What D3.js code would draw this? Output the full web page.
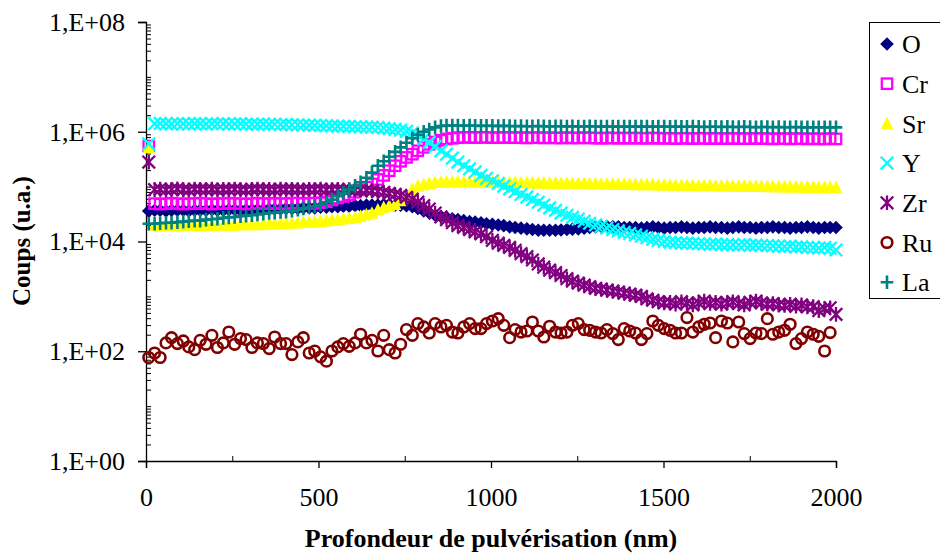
<!DOCTYPE html>
<html><head><meta charset="utf-8">
<script src="https://cdn.jsdelivr.net/npm/d3@7"></script>
<style>
body{margin:0;background:#fff}
svg{display:block}
text{font-family:"Liberation Serif","Times New Roman",serif;fill:#000}
</style>
</head><body><svg id="c" width="940" height="557"></svg>
<script>
// ---------- DATA ----------
const depth = [8,25,41,58,74,91,108,124,141,157,174,191,207,224,240,257,274,290,307,323,
340,357,373,390,406,423,440,456,473,489,506,523,539,556,572,589,606,622,639,655,
672,689,705,722,738,755,772,788,805,821,838,855,871,888,904,921,938,954,971,987,
1004,1021,1037,1054,1070,1087,1104,1120,1137,1153,1170,1187,1203,1220,1236,1253,1270,1286,1303,1319,
1336,1353,1369,1386,1402,1419,1436,1452,1469,1485,1502,1519,1535,1552,1568,1585,1602,1618,1635,1651,
1668,1685,1701,1718,1734,1751,1768,1784,1801,1817,1834,1851,1867,1884,1900,1917,1934,1950,1967,1983,2000];

const O = [36000,37000,37000,36000,37000,37000,37000,36000,37000,37000,37000,38000,37000,37000,38000,38000,37000,38000,38000,
38000,38000,39000,39000,39000,40000,40000,40000,41000,41000,41000,
42000,42000,43000,43000,44000,44000,45000,
45000,46000,46000,46000,47000,47000,46000,46000,45000,
43000,40000,36000,33000,30000,28500,27500,26000,25000,24000,23000,22500,22000,21000,20500,20000,19500,18500,18000,
17500,17000,16500,16000,16000,16000,16000,
16200,16500,16800,17000,17500,18000,18500,
19000,19000,18500,18500,18000,18000,
18000,17500,18000,18500,18000,17500,18000,18000,18500,18000,17500,18000,18000,18500,18000,18000,17500,18000,18500,18000,
18000,17500,18000,18000,18500,18000,18000,17500,18000,18000,18500,18000,17500,18000,18000,18000];

const Cr = [550000,
49000,48000,49000,50000,49000,48000,49000,49000,50000,49000,48000,49000,49000,50000,49000,49000,48000,49000,50000,49000,
49000,50000,49000,49000,50000,50000,49000,50000,50000,
51000,53000,57000,62000,66000,71000,79000,87000,98000,112000,135000,160000,195000,240000,290000,340000,390000,450000,520000,590000,
650000,700000,740000,760000,
780000,790000,790000,780000,790000,790000,780000,780000,790000,780000,780000,780000,770000,780000,780000,770000,780000,770000,770000,780000,
770000,770000,780000,770000,770000,760000,770000,770000,760000,770000,760000,770000,760000,760000,770000,760000,760000,760000,750000,760000,
760000,750000,760000,760000,750000,760000,750000,750000,760000,750000,750000,750000,760000,750000,750000,740000,750000,750000,740000,750000,
750000,740000,750000,740000,740000,750000,740000];

const Sr = [520000,
20000,19500,20000,20000,19500,20000,20000,20000,19500,20000,20000,20000,20500,20000,20000,20500,20500,20500,
20500,21000,21000,21000,21500,21500,22000,22000,22500,22500,23000,23500,
24000,24500,25000,26000,26500,27500,29000,31000,33000,38000,42000,45000,48000,56000,70000,90000,103000,110000,116000,120000,
122000,123000,123000,124000,123000,123000,122000,122000,122000,121000,
121000,120000,120000,120000,119000,119000,118000,118000,118000,117000,117000,116000,116000,115000,115000,115000,114000,114000,113000,113000,
112000,112000,111000,111000,110000,110000,109000,109000,108000,108000,
107000,107000,106000,106000,106000,105000,105000,105000,104000,104000,104000,103000,103000,103000,102000,102000,102000,101000,101000,101000,
100000,100000,100000,99000,99000,99000,98000,98000,98000,97000];

const Y = [600000,
1400000,1420000,1400000,1380000,1410000,1400000,1390000,1400000,1410000,1380000,1400000,1390000,1400000,1380000,1390000,1400000,1380000,1380000,
1370000,1380000,1360000,1370000,1350000,1360000,
1340000,1330000,1320000,1320000,1310000,1300000,
1290000,1280000,1270000,1260000,1250000,1240000,
1230000,1220000,1210000,1200000,
1170000,1140000,1110000,1070000,1020000,950000,860000,740000,640000,540000,450000,390000,330000,280000,240000,210000,185000,160000,142000,128000,
114000,102000,91000,81000,72000,65000,58000,52000,46000,41000,37000,33000,30000,27500,25500,23500,21500,20000,18800,17600,
16500,15600,14700,14000,13200,12500,11700,11000,10500,10000,
9700,9500,9300,9300,9200,9100,9000,8900,9000,8800,8700,8700,8600,8800,8500,8600,8500,8400,8300,8200,
8100,8200,7900,8000,7800,7700,7600,7800,7500,7000];

const Zr = [280000,
88000,90000,87000,89000,91000,88000,87000,90000,89000,88000,90000,87000,89000,88000,90000,88000,87000,89000,90000,88000,
89000,87000,90000,88000,89000,88000,87000,89000,88000,90000,87000,88000,89000,87000,88000,86000,87000,86000,
84000,82000,79000,75000,72000,69000,64000,59000,52000,45000,39000,33000,28000,25000,22000,19500,18000,16500,15000,13800,
12200,10500,9300,8500,7800,6900,6000,5300,4600,3900,3400,3000,2700,2400,2100,1900,1750,1600,1500,1400,
1350,1300,1250,1200,1150,1100,1050,1000,900,850,800,
760,780,720,800,750,700,760,820,740,780,720,760,800,740,700,780,820,760,720,740,
700,680,720,660,700,640,650,550,600,620,470];

const Ru = [77,93,77,142,177,138,154,120,107,158,
134,195,117,142,224,134,170,163,117,142,
138,112,182,138,138,87,148,177,93,101,
79,66,101,120,138,123,142,204,142,158,
101,195,107,93,134,248,195,319,277,215,
319,277,297,224,215,277,319,259,259,319,
356,393,297,177,248,224,234,341,234,182,
285,224,215,224,297,319,248,241,224,215,
248,210,163,259,234,215,163,210,356,297,
259,241,215,215,410,224,277,310,327,177,
356,327,148,341,210,170,215,210,393,204,
224,241,310,138,170,224,204,187,101,219];

const La = [21000,21000,21500,22000,22000,22500,23000,23500,24000,24000,25000,25500,26000,27000,27500,28000,29000,29500,30000,31000,
32000,33000,33500,34500,35000,36500,38000,40000,42000,44000,
47000,52000,58000,67000,76000,88000,103000,120000,145000,180000,240000,290000,350000,430000,520000,630000,760000,880000,1000000,1100000,
1200000,1270000,1300000,
1300000,1300000,1290000,1300000,1290000,1280000,1290000,1280000,1270000,1280000,
1270000,1260000,1270000,1260000,1260000,1270000,1260000,1250000,1260000,1260000,
1250000,1260000,1250000,1250000,1260000,1250000,1240000,1250000,1250000,1240000,
1250000,1240000,1240000,1250000,1240000,1230000,1240000,1240000,1230000,1240000,
1230000,1230000,1240000,1230000,1220000,1230000,1230000,1220000,1230000,1220000,
1220000,1230000,1220000,1210000,1220000,1220000,1210000,1220000,1210000,1210000,
1220000,1210000,1200000,1210000,1210000,1200000,1210000,1200000];

const seriesNames = ["O","Cr","Sr","Y","Zr","Ru","La"];
const seriesValues = [O,Cr,Sr,Y,Zr,Ru,La];
const seriesColors = ["#000080","#FF00FF","#FFFF00","#00FFFF","#800080","#800000","#008080"];
const seriesMarkers = ["diamond","square","triangle","x","star","circle","plus"];

const yTickValues = [1,1e2,1e4,1e6,1e8];
const yTickLabels = ["1,E+00","1,E+02","1,E+04","1,E+06","1,E+08"];
const xTickValues = [0,500,1000,1500,2000];
const xMinorValues = [250,750,1250,1750];
const xTitle = "Profondeur de pulvérisation (nm)";
const yTitle = "Coups (u.a.)";

// ---------- CHART ----------
const svg = d3.select("#c");
const L = 146, R = 836, T = 22, B = 461;
const x = d3.scaleLinear().domain([0,2000]).range([L,R]);
const y = d3.scaleLog().domain([1,1e8]).range([B,T]);

// minor log ticks
const yMinor = [];
for (let e = 0; e < 8; e++) for (let m = 1; m <= 9; m++) {
  const v = m * Math.pow(10, e);
  if (!(m === 1 && e % 2 === 0)) yMinor.push(v);
}

const gy = svg.append("g").attr("transform", `translate(${L},0)`)
  .call(d3.axisLeft(y).tickValues(yTickValues).tickFormat((d,i)=>yTickLabels[i]).tickSize(8).tickPadding(13));
gy.select(".domain").attr("stroke","#000").attr("stroke-width",1.3);
gy.selectAll(".tick line").attr("stroke","#000").attr("stroke-width",1.3);
gy.selectAll(".tick text").attr("font-size",26).attr("font-family","Liberation Serif");

const gyMinor = svg.append("g").attr("transform", `translate(${L},0)`)
  .call(d3.axisRight(y).tickValues(yMinor).tickFormat("").tickSize(5));
gyMinor.select(".domain").remove();
gyMinor.selectAll(".tick line").attr("stroke","#000").attr("stroke-width",1);

const gx = svg.append("g").attr("transform", `translate(0,${B})`)
  .call(d3.axisBottom(x).tickValues(xTickValues).tickFormat(d3.format("d")).tickSize(7).tickPadding(20));
gx.select(".domain").attr("stroke","#000").attr("stroke-width",1.3);
gx.selectAll(".tick line").attr("stroke","#000").attr("stroke-width",1.3);
gx.selectAll(".tick text").attr("font-size",26).attr("font-family","Liberation Serif");

const gxMinor = svg.append("g").attr("transform", `translate(0,${B})`)
  .call(d3.axisTop(x).tickValues(xMinorValues).tickFormat("").tickSize(5));
gxMinor.select(".domain").remove();
gxMinor.selectAll(".tick line").attr("stroke","#000").attr("stroke-width",1);

// axis titles
svg.append("text").attr("x", 491).attr("y", 547).attr("text-anchor","middle")
  .attr("font-size",26).attr("font-weight","bold").text(xTitle);
svg.append("text").attr("transform","translate(30,241) rotate(-90)").attr("text-anchor","middle")
  .attr("font-size",25).attr("font-weight","bold").text(yTitle);

// marker drawing
function drawMarker(g, type, color) {
  const s = 6.3;
  switch (type) {
    case "diamond":
      g.append("path").attr("d",`M0,${-s-0.5}L${s+0.5},0L0,${s+0.5}L${-s-0.5},0Z`).attr("fill",color);
      break;
    case "square":
      g.append("rect").attr("x",-5.2).attr("y",-5.2).attr("width",10.4).attr("height",10.4)
        .attr("fill","none").attr("stroke",color).attr("stroke-width",2.3);
      break;
    case "triangle":
      g.append("path").attr("d",`M0,${-s-0.5}L${s},${s-0.5}L${-s},${s-0.5}Z`).attr("fill",color);
      break;
    case "x":
      g.append("path").attr("d",`M${-s},${-s}L${s},${s}M${s},${-s}L${-s},${s}`)
        .attr("stroke",color).attr("stroke-width",2.3).attr("fill","none");
      break;
    case "star":
      g.append("path").attr("d",`M${-s},${-s}L${s},${s}M${s},${-s}L${-s},${s}M0,${-s-1}L0,${s+1}`)
        .attr("stroke",color).attr("stroke-width",2.3).attr("fill","none");
      break;
    case "circle":
      g.append("circle").attr("r",5.3).attr("fill","none").attr("stroke",color).attr("stroke-width",2.6);
      break;
    case "plus":
      g.append("path").attr("d",`M${-s},0L${s},0M0,${-s-0.5}L0,${s+0.5}`)
        .attr("stroke",color).attr("stroke-width",2.6).attr("fill","none");
      break;
  }
}

seriesNames.forEach((name, si) => {
  const vals = seriesValues[si];
  const pts = vals.map((v,i) => ({d: depth[i], v}));
  const g = svg.append("g").attr("class","series-"+name);
  g.selectAll("g.pt").data(pts).enter().append("g").attr("class","pt")
    .attr("transform", p => `translate(${x(p.d)},${y(p.v)})`)
    .each(function(){ drawMarker(d3.select(this), seriesMarkers[si], seriesColors[si]); });
});

// legend
const lg = svg.append("g");
lg.append("rect").attr("x",869.5).attr("y",22.5).attr("width",80).attr("height",276)
  .attr("fill","#fff").attr("stroke","#000").attr("stroke-width",1);
seriesNames.forEach((name, si) => {
  const cy = 44 + si * 39.7;
  const mg = lg.append("g").attr("transform",`translate(887,${cy})`);
  drawMarker(mg, seriesMarkers[si], seriesColors[si]);
  lg.append("text").attr("x",902).attr("y",cy).attr("dy","0.35em")
    .attr("font-size",26).text(name);
});
</script>
</body></html>
